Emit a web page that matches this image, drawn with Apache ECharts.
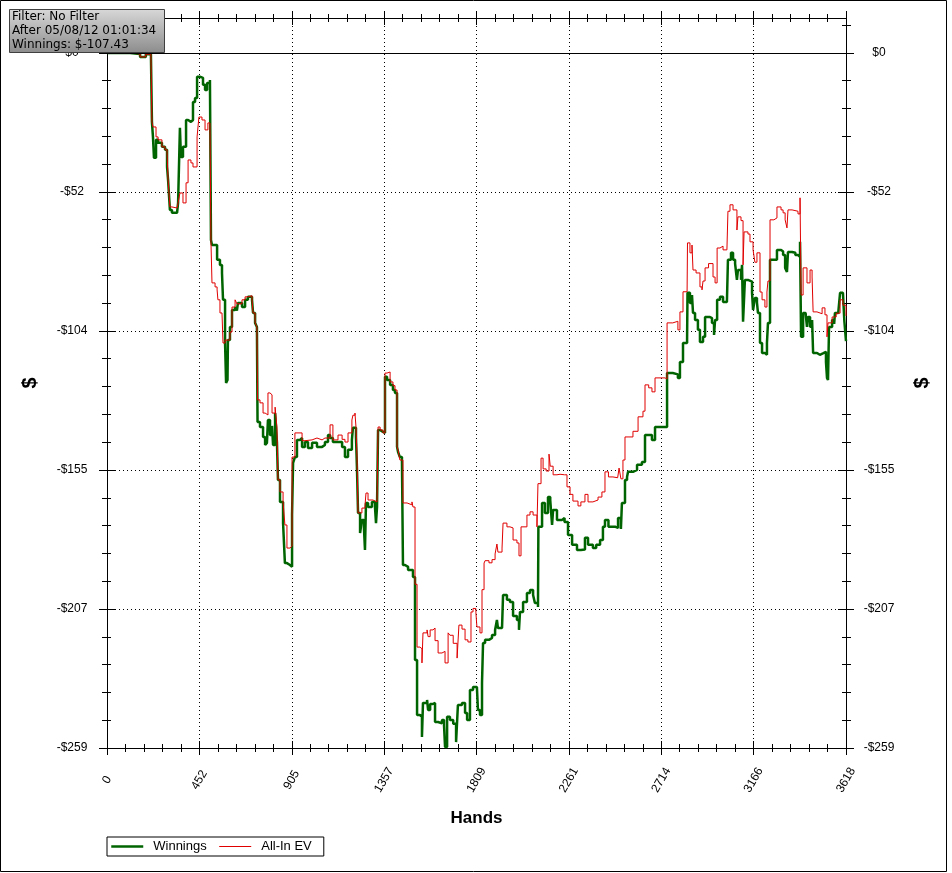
<!DOCTYPE html>
<html><head><meta charset="utf-8">
<script src="https://cdn.jsdelivr.net/npm/echarts@6/dist/echarts.min.js"></script>
<style>html,body{margin:0;padding:0;background:#fff;}#c{width:952px;height:873px;}</style>
</head><body><div id="c"></div>
<script>
// ---- data ----
const handsMax = 3618;
const yMin = -259, yMax = 13, yStep = 51.8;
const infoLines = ['Filter: No Filter', 'After 05/08/12 01:01:34', 'Winnings: $-107.43'];
const seriesNames = ['Winnings', 'All-In EV'];

const winHands = [0,64,113,162,190,215,220,225,230,240,250,269,284,294,299,308,318,343,348,357,362,372,387,397,411,421,431,441,455,470,480,490,504,509,514,539,553,563,568,578,583,590,592,602,612,627,636,641,661,676,690,710,715,725,734,737,749,764,774,783,788,798,808,813,823,832,837,847,862,871,881,896,906,911,920,930,945,955,969,984,1004,1028,1053,1067,1082,1092,1106,1131,1151,1165,1180,1199,1204,1219,1224,1229,1239,1248,1258,1263,1268,1278,1297,1312,1317,1322,1327,1337,1351,1361,1371,1386,1400,1410,1420,1425,1434,1444,1449,1459,1474,1498,1508,1518,1532,1542,1547,1567,1572,1582,1596,1606,1621,1640,1650,1655,1665,1679,1695,1709,1718,1738,1753,1763,1777,1792,1811,1816,1826,1836,1841,1851,1870,1885,1900,1909,1914,1934,1939,1958,1973,1988,2007,2017,2022,2037,2056,2071,2086,2095,2110,2112,2130,2144,2159,2170,2179,2184,2203,2228,2240,2257,2277,2301,2320,2340,2355,2379,2395,2414,2428,2438,2455,2477,2490,2502,2516,2521,2536,2546,2551,2575,2595,2619,2634,2668,2683,2732,2742,2770,2795,2805,2820,2840,2842,2854,2864,2869,2879,2893,2903,2918,2928,2950,2962,2972,2977,2987,3001,3016,3035,3040,3055,3065,3075,3084,3089,3104,3109,3114,3123,3138,3158,3163,3172,3182,3187,3197,3207,3221,3231,3236,3246,3265,3280,3300,3310,3320,3329,3334,3354,3370,3383,3393,3398,3408,3420,3427,3432,3442,3452,3457,3476,3490,3505,3520,3525,3530,3535,3550,3560,3564,3580,3589,3603,3610,3618];
const winValues = [0,0,-0.4,-1.5,-0.5,-0.3,-25.7,-31.3,-39.1,-32.4,-33.5,-35.0,-36.1,-42.5,-47.3,-58.5,-59.6,-59.3,-55.9,-27.9,-38.8,-35.0,-25.0,-25.7,-25.0,-18.3,-16.8,-8.9,-9.3,-11.9,-13.8,-11.2,-10.1,-69.7,-71.6,-77.1,-79.0,-82.0,-92.0,-108.1,-123.0,-121.9,-107.0,-102.1,-95.8,-94.7,-96.0,-93.2,-94.7,-92.0,-90.9,-92.0,-96.9,-100.6,-102.1,-137.5,-139.4,-143.1,-146.1,-145.3,-136.8,-142.4,-139.0,-146.1,-134.2,-145.0,-159.1,-167.3,-175.2,-190.1,-190.8,-191.5,-172.2,-152.8,-150.6,-144.2,-143.5,-146.8,-145.0,-147.2,-145.3,-146.8,-146.1,-145.0,-142.4,-143.5,-145.0,-145.0,-146.8,-150.6,-147.9,-144.2,-139.7,-143.1,-155.4,-171.4,-178.9,-174.0,-177.0,-185.2,-167.7,-169.2,-167.3,-169.2,-175.2,-169.2,-140.5,-141.2,-141.6,-120.7,-121.9,-123.7,-125.6,-126.7,-146.8,-148.7,-150.6,-151.7,-190.8,-191.5,-192.7,-195.3,-226.2,-246.7,-247.4,-254.9,-242.2,-241.1,-244.8,-242.6,-242.2,-249.3,-249.8,-248.6,-250.5,-258.6,-247.4,-248.6,-250.0,-256.8,-243.0,-242.2,-246.0,-248.6,-237.4,-236.3,-236.6,-244.8,-246.7,-234.8,-219.9,-218.7,-218.0,-216.9,-215.0,-211.3,-214.3,-213.9,-202.0,-203.8,-204.6,-209.8,-211.3,-215.0,-208.3,-204.6,-201.2,-200.1,-202.0,-205.0,-206.5,-176.6,-167.7,-171.4,-165.5,-166.6,-175.9,-170.3,-174.0,-173.3,-174.8,-179.6,-183.3,-185.2,-185.0,-180.7,-183.3,-184.5,-183.3,-181.5,-176.6,-174.0,-176.6,-176.6,-177.0,-173.3,-177.4,-167.7,-159.1,-158.0,-156.1,-155.4,-153.5,-152.4,-142.4,-144.2,-139.4,-139.4,-119.3,-119.8,-121.1,-115.2,-108.1,-107.0,-89.4,-93.2,-90.2,-96.9,-99.5,-103.2,-107.7,-105.8,-98.4,-98.8,-100.6,-105.1,-99.5,-92.0,-90.9,-92.8,-92.8,-77.1,-74.5,-77.1,-78.5,-84.6,-80.9,-84.6,-79.0,-100.2,-84.6,-85.2,-89.4,-95.8,-91.3,-93.0,-96.9,-108.1,-111.8,-112.5,-108.1,-100.6,-77.1,-77.1,-73.4,-74.0,-75.3,-80.1,-81.6,-74.2,-74.5,-75.3,-76.0,-70.4,-105.8,-96.9,-96.5,-102.1,-98.4,-102.0,-99.5,-111.8,-112.5,-112.0,-111.4,-115.2,-121.1,-121.9,-102.1,-99.5,-101.0,-96.9,-97.6,-89.4,-90.0,-100.0,-107.43];

const evHands = [0,64,113,162,190,215,220,225,240,250,269,284,294,299,308,318,343,348,357,372,387,397,411,421,441,450,465,480,494,504,509,514,529,539,543,553,563,568,578,592,602,612,627,636,661,676,690,710,715,725,734,737,749,764,774,788,798,808,823,832,837,847,862,871,881,896,906,920,945,955,969,1004,1028,1053,1067,1082,1092,1106,1116,1131,1151,1165,1180,1199,1204,1214,1219,1224,1229,1248,1263,1268,1278,1302,1322,1327,1337,1351,1361,1371,1386,1400,1410,1420,1425,1434,1449,1469,1493,1498,1508,1518,1532,1542,1547,1567,1572,1582,1596,1606,1621,1640,1655,1670,1679,1695,1714,1723,1738,1753,1767,1782,1792,1806,1811,1826,1836,1846,1851,1870,1885,1900,1909,1914,1934,1939,1958,1973,1988,2007,2017,2027,2056,2071,2086,2105,2110,2125,2135,2150,2164,2170,2184,2203,2218,2240,2252,2267,2281,2306,2320,2340,2355,2379,2404,2423,2438,2455,2477,2500,2507,2516,2526,2536,2551,2575,2600,2624,2634,2652,2668,2683,2732,2742,2770,2795,2805,2820,2840,2842,2854,2864,2869,2884,2903,2913,2918,2928,2945,2967,2977,2987,3001,3016,3035,3040,3050,3065,3084,3089,3104,3114,3119,3138,3148,3163,3172,3182,3197,3207,3221,3231,3236,3246,3265,3280,3300,3310,3320,3329,3334,3354,3383,3393,3398,3408,3427,3442,3452,3457,3476,3501,3515,3525,3530,3550,3570,3589,3603,3618];
const evValues = [0,0,-0.4,-1.5,-0.5,-0.3,-25.7,-27.6,-31.3,-32.4,-35.0,-36.1,-37.0,-47.3,-57.4,-57.8,-58.5,-55.9,-52.2,-55.9,-48.4,-39.9,-41.0,-42.5,-31.3,-23.9,-25.0,-28.7,-26.1,-25.7,-70.4,-85.7,-87.2,-88.3,-92.0,-96.9,-97.6,-108.1,-107.0,-107.0,-104.0,-94.7,-92.0,-93.5,-92.0,-90.9,-90.5,-92.0,-96.9,-100.6,-102.1,-129.3,-130.4,-134.2,-134.9,-126.7,-127.4,-134.2,-132.0,-139.4,-159.1,-163.6,-167.3,-175.9,-184.5,-183.8,-150.6,-141.6,-141.6,-144.5,-144.2,-143.5,-144.2,-143.5,-143.5,-143.5,-138.6,-144.2,-144.2,-142.4,-144.0,-145.0,-141.6,-136.8,-135.0,-134.2,-139.4,-150.6,-171.4,-169.6,-168.8,-164.0,-166.6,-167.3,-167.3,-139.4,-140.5,-141.6,-119.3,-118.9,-122.6,-124.0,-125.6,-146.8,-148.0,-151.7,-167.7,-168.4,-167.3,-169.2,-198.0,-221.4,-222.0,-227.3,-216.1,-215.0,-217.5,-215.0,-214.3,-219.0,-223.6,-223.0,-227.3,-216.1,-217.0,-220.0,-225.5,-213.2,-214.7,-218.7,-219.5,-208.3,-207.0,-208.5,-213.9,-216.1,-200.0,-190.1,-189.2,-190.0,-188.8,-186.7,-183.0,-186.0,-184.5,-175.2,-176.6,-177.0,-181.5,-182.6,-187.4,-176.6,-172.2,-171.0,-172.2,-176.6,-160.5,-151.0,-155.0,-155.8,-149.5,-154.0,-157.2,-157.0,-157.2,-157.2,-161.7,-164.5,-167.0,-168.8,-167.3,-164.5,-167.3,-166.6,-165.5,-163.6,-156.1,-158.0,-158.3,-158.3,-154.7,-158.7,-151.7,-143.1,-143.1,-141.0,-135.6,-133.5,-123.7,-124.8,-126.3,-121.1,-121.5,-100.6,-100.0,-103.2,-96.5,-89.0,-89.4,-70.8,-74.5,-71.6,-80.9,-82.0,-87.2,-88.3,-85.0,-80.1,-78.5,-83.5,-85.7,-72.7,-72.0,-73.4,-73.4,-59.0,-56.6,-58.5,-66.0,-61.1,-62.5,-79.0,-66.7,-67.5,-70.4,-73.4,-78.0,-74.5,-89.1,-92.0,-94.7,-89.1,-85.0,-62.2,-61.5,-57.4,-58.5,-59.6,-62.2,-65.2,-58.5,-59.0,-60.0,-54.0,-90.2,-80.1,-85.7,-80.9,-83.5,-96.5,-97.2,-95.0,-97.6,-105.8,-100.6,-98.4,-97.0,-92.0,-94.0,-98.0];

// ---- chart ----
const pair = (xs, ys) => xs.map((x, i) => [x, ys[i]]);
const dotted = { show: true, lineStyle: { color: '#000', type: [1, 3], width: 1 } };
const axisFont = { fontFamily: 'Liberation Sans', fontSize: 12, color: '#000' };
const yFmt = v => { if (v > 1) return ''; const r = Math.round(v); return r === 0 ? '$0' : '-$' + Math.abs(r); };
const xFmt = v => String(Math.round(v));
const blackLine = { show: true, onZero: false, lineStyle: { color: '#000', width: 1 } };
// tick positions inside the y range only (no extra tick at the axis top)
const yMajorTicks = [], yMinorTicks = [];
for (let i = 0; yMin + i * yStep <= 0.001; i++) yMajorTicks.push(+(yMin + i * yStep).toFixed(4));
for (let i = 0; yMin + i * yStep / 5 < yMax; i++) yMinorTicks.push(+(yMin + i * yStep / 5).toFixed(4));

function tickAxis(isX, pos, off, len, interval, custom) {
  const tick = { show: true, length: len, lineStyle: { color: '#000', width: 1 } };
  if (custom) tick.customValues = custom;
  return { type: 'value', position: pos, min: isX ? 0 : yMin, max: isX ? handsMax : yMax, interval: interval, offset: off,
    axisLine: { show: false, onZero: false }, axisLabel: { show: false }, splitLine: { show: false },
    axisTick: tick };
}
const nameStyle = { fontFamily: 'Liberation Sans', fontWeight: 'bold', fontSize: 17, color: '#000' };

const option = {
  animation: false,
  backgroundColor: '#fff',
  grid: { left: 107, right: 106, top: 18, bottom: 125, containLabel: false },
  legend: {
    left: 107, top: 837, orient: 'horizontal',
    data: [
      { name: seriesNames[0], lineStyle: { width: 2.5 } },
      { name: seriesNames[1], lineStyle: { width: 1 } }
    ],
    itemWidth: 32, itemHeight: 14, itemGap: 12,
    itemStyle: { opacity: 0 },
    padding: [3, 12, 3, 3],
    borderColor: '#000', borderWidth: 1, backgroundColor: '#fff',
    textStyle: { fontFamily: 'Liberation Sans', fontSize: 13, color: '#000', padding: [0, 0, 0, 5] }
  },
  xAxis: [
    { type: 'value', position: 'bottom', min: 0, max: handsMax, interval: handsMax / 8,
      axisLine: blackLine,
      axisTick: { show: false },
      axisLabel: Object.assign({ rotate: 60, align: 'center', verticalAlign: 'middle', margin: 32, formatter: xFmt, showMaxLabel: true, showMinLabel: true }, axisFont),
      splitLine: dotted,
      name: 'Hands', nameLocation: 'middle', nameGap: 62, nameTextStyle: nameStyle },
    tickAxis(true, 'bottom', -7, 14, handsMax / 8),
    tickAxis(true, 'bottom', -4, 8, handsMax / 40),
    Object.assign(tickAxis(true, 'top', 0, 0, handsMax / 8), { axisLine: blackLine, axisTick: { show: false } }),
    tickAxis(true, 'top', -7, 14, handsMax / 8),
    tickAxis(true, 'top', -4, 8, handsMax / 40)
  ],
  yAxis: [
    { type: 'value', position: 'left', min: yMin, max: yMax, interval: yStep,
      axisLine: blackLine,
      axisTick: { show: false },
      axisLabel: Object.assign({ align: 'center', margin: 35, formatter: yFmt }, axisFont),
      splitLine: dotted,
      name: '$', nameLocation: 'middle', nameGap: 67, nameTextStyle: Object.assign({}, nameStyle, { fontSize: 20 }) },
    tickAxis(false, 'left', -8, 16, yStep, yMajorTicks),
    tickAxis(false, 'left', -4, 9, yStep / 5, yMinorTicks),
    { type: 'value', position: 'right', min: yMin, max: yMax, interval: yStep,
      axisLine: blackLine,
      axisTick: { show: false },
      axisLabel: Object.assign({ align: 'center', margin: 33, formatter: yFmt }, axisFont),
      splitLine: { show: false },
      name: '$', nameLocation: 'middle', nameGap: 66, nameTextStyle: Object.assign({}, nameStyle, { fontSize: 20 }) },
    tickAxis(false, 'right', -8, 16, yStep, yMajorTicks),
    tickAxis(false, 'right', -4, 9, yStep / 5, yMinorTicks)
  ],
  series: [
    { name: seriesNames[0], type: 'line', step: 'end', data: pair(winHands, winValues), symbol: 'none',
      lineStyle: { color: '#006400', width: 2.5 }, itemStyle: { color: '#006400' },
      markLine: { silent: true, symbol: 'none', label: { show: false },
        lineStyle: { color: '#000', type: 'solid', width: 1 }, data: [{ yAxis: 0 }] } },
    { name: seriesNames[1], type: 'line', step: 'end', data: pair(evHands, evValues), symbol: 'none',
      lineStyle: { color: '#e00000', width: 1 }, itemStyle: { color: '#e00000' } }
  ],
  graphic: [
    { type: 'rect', z: 100, shape: { x: 0.5, y: 0.5, width: 946, height: 871 }, style: { fill: 'none', stroke: '#000', lineWidth: 1 } },
    { type: 'rect', z: 100, shape: { x: 9.5, y: 9.5, width: 155, height: 43 },
      style: { stroke: '#404040', lineWidth: 1,
        fill: new echarts.graphic.LinearGradient(0, 0, 0, 1, [{ offset: 0, color: '#d8d8d8' }, { offset: 1, color: '#8c8c8c' }]) } },
    { type: 'text', z: 101, style: { x: 12, y: 10, text: infoLines.join('\n'), font: '12px "DejaVu Sans"', lineHeight: 14, fill: '#000' } }
  ]
};
const chart = echarts.init(document.getElementById('c'), null, { renderer: 'canvas' });
chart.setOption(option);
</script></body></html>
